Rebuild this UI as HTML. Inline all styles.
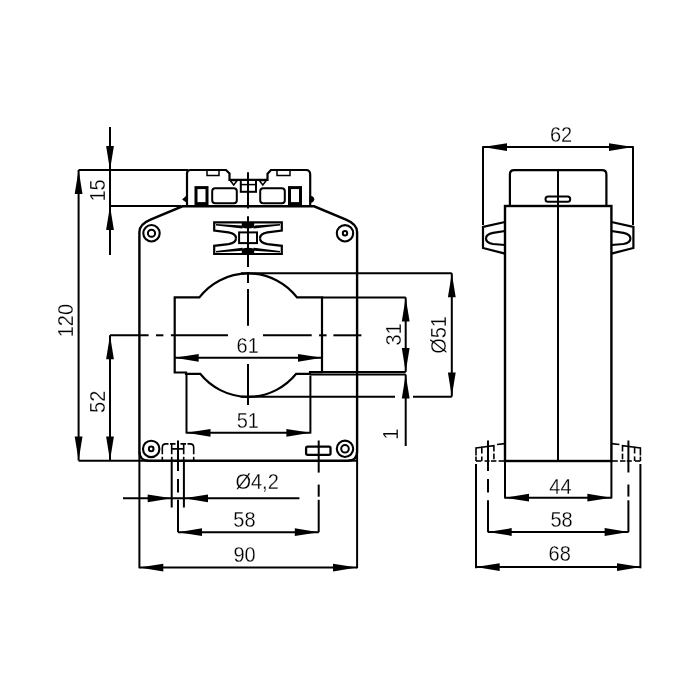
<!DOCTYPE html>
<html><head><meta charset="utf-8"><style>
html,body{margin:0;padding:0;background:#fff;}
svg{display:block;will-change:transform;}
text{font-family:"Liberation Sans",sans-serif;fill:#000;stroke:#fff;stroke-width:1.2px;}
</style></head><body>
<svg width="700" height="700" viewBox="0 0 700 700" stroke="#000" fill="none" stroke-linecap="butt">
<rect x="0" y="0" width="700" height="700" fill="#fff" stroke="none"/>
<line x1="110" y1="127" x2="110" y2="255" stroke-width="2.0"/>
<polygon points="110.00,170.00 106.10,146.00 113.90,146.00" stroke="none" fill="#000"/>
<line x1="110" y1="206" x2="110" y2="255" stroke-width="2.0"/>
<polygon points="110.00,206.00 106.10,230.00 113.90,230.00" stroke="none" fill="#000"/>
<text x="0" y="0" font-size="100" transform="translate(104.63,201.50) rotate(-90) scale(0.2,0.217)">15</text>
<line x1="78.6" y1="170" x2="188" y2="170" stroke-width="2.0"/>
<line x1="110" y1="206" x2="181" y2="206" stroke-width="2.0"/>
<line x1="78.6" y1="460.7" x2="148.5" y2="460.7" stroke-width="2.0"/>
<line x1="348" y1="460.7" x2="357.1" y2="460.7" stroke-width="2.0"/>
<line x1="78.6" y1="170" x2="78.6" y2="460.5" stroke-width="2.0"/>
<polygon points="78.60,170.00 74.70,194.00 82.50,194.00" stroke="none" fill="#000"/>
<polygon points="78.60,460.50 74.70,436.50 82.50,436.50" stroke="none" fill="#000"/>
<text x="0" y="0" font-size="100" transform="translate(73.49,337.35) rotate(-90) scale(0.2,0.217)">120</text>
<line x1="110" y1="335.3" x2="110" y2="460.5" stroke-width="2.0"/>
<polygon points="110.00,335.30 106.10,359.30 113.90,359.30" stroke="none" fill="#000"/>
<polygon points="110.00,460.50 106.10,436.50 113.90,436.50" stroke="none" fill="#000"/>
<text x="0" y="0" font-size="100" transform="translate(105.19,412.95) rotate(-90) scale(0.2,0.217)">52</text>
<line x1="110" y1="335.3" x2="148.6" y2="335.3" stroke-width="2.0"/>
<line x1="156" y1="335.3" x2="163.4" y2="335.3" stroke-width="2.0"/>
<line x1="170.9" y1="335.3" x2="228" y2="335.3" stroke-width="2.0"/>
<line x1="263" y1="335.3" x2="311.7" y2="335.3" stroke-width="2.0"/>
<line x1="319.1" y1="335.3" x2="326.6" y2="335.3" stroke-width="2.0"/>
<line x1="333.4" y1="335.3" x2="361.4" y2="335.3" stroke-width="2.0"/>
<path d="M182.4,206.3 L314.1,206.3 L346,219.6 Q357.1,224.2 357.1,232 L357.1,451.5 Q357.1,460.7 348,460.7 L148.5,460.7 Q139.4,460.7 139.4,451.5 L139.4,232 Q139.4,224.2 150.5,219.6 Z" stroke-width="2.4" fill="none"/>
<line x1="139.4" y1="451.5" x2="139.4" y2="568.3" stroke-width="2.0"/>
<line x1="357.1" y1="451.5" x2="357.1" y2="568.3" stroke-width="2.0"/>
<circle cx="151.5" cy="233.25" r="8.2" stroke-width="2.1" fill="none"/>
<circle cx="151.5" cy="233.25" r="3.6" stroke-width="2.0" fill="none"/>
<circle cx="345" cy="233.3" r="8.2" stroke-width="2.1" fill="none"/>
<circle cx="345" cy="233.3" r="2.2" stroke-width="2.0" fill="none"/>
<circle cx="151.2" cy="448.9" r="8.2" stroke-width="2.1" fill="none"/>
<circle cx="151.2" cy="448.9" r="2.3" stroke-width="2.0" fill="none"/>
<circle cx="345" cy="448.8" r="8.2" stroke-width="2.1" fill="none"/>
<circle cx="345" cy="448.8" r="3.8" stroke-width="2.0" fill="none"/>
<path d="M187,206 L187,173.5 Q187,170 190.5,170 L226,170 L229.5,173.5 L229.5,179.8 L267.5,179.8 L267.5,173.8 L271,170 L306,170 Q310.2,170 310.2,174.5 L310.2,206" stroke-width="2.2" fill="none"/>
<rect x="207" y="170" width="12" height="5.5" rx="0" stroke-width="1.5" fill="none"/>
<rect x="277" y="170" width="13" height="5.5" rx="0" stroke-width="1.5" fill="none"/>
<rect x="196" y="187.6" width="11" height="16.0" rx="0" stroke-width="3.0" fill="none"/>
<rect x="289.5" y="187.6" width="11.0" height="16.0" rx="0" stroke-width="3.0" fill="none"/>
<rect x="212.2" y="188.2" width="24.600000000000023" height="15.100000000000023" rx="3" stroke-width="2.0" fill="none"/>
<rect x="260.2" y="188.2" width="24.600000000000023" height="15.100000000000023" rx="3" stroke-width="2.0" fill="none"/>
<path d="M230.2,180.5 L237.2,180.5 L233.7,185 Z" stroke-width="1.5" fill="none"/>
<path d="M259.3,180.5 L266.3,180.5 L262.8,185 Z" stroke-width="1.5" fill="none"/>
<rect x="240.8" y="180" width="15.199999999999989" height="11.800000000000011" rx="0" stroke-width="2.0" fill="none"/>
<line x1="240.8" y1="184.6" x2="256" y2="184.6" stroke-width="1.5"/>
<path d="M187,195.6 L182.6,199.4 L187,202.6 Z" stroke-width="0.8" fill="#000"/>
<path d="M310,196 Q314,196.5 314,199.3 Q314,202.3 310,202.6 Z" stroke-width="0.8" fill="#000"/>
<path d="M248,222.4 L214.2,222.4 L214.2,230.6 L228.5,232.3 Q236,233.6 236,238.2" stroke-width="2.2" fill="none"/>
<path d="M216,223.9 L242.5,225.6 L242.5,228.6 L216,225.4 Z" stroke-width="0" fill="#000"/>
<path d="M248,253.99999999999997 L214.2,253.99999999999997 L214.2,245.79999999999998 L228.5,244.09999999999997 Q236,242.79999999999998 236,238.2" stroke-width="2.2" fill="none"/>
<path d="M216,252.49999999999997 L242.5,250.79999999999998 L242.5,247.79999999999998 L216,250.99999999999997 Z" stroke-width="0" fill="#000"/>
<path d="M248,222.4 L281.8,222.4 L281.8,230.6 L267.5,232.3 Q260,233.6 260,238.2" stroke-width="2.2" fill="none"/>
<path d="M280,223.9 L253.5,225.6 L253.5,228.6 L280,225.4 Z" stroke-width="0" fill="#000"/>
<path d="M248,253.99999999999997 L281.8,253.99999999999997 L281.8,245.79999999999998 L267.5,244.09999999999997 Q260,242.79999999999998 260,238.2" stroke-width="2.2" fill="none"/>
<path d="M280,252.49999999999997 L253.5,250.79999999999998 L253.5,247.79999999999998 L280,250.99999999999997 Z" stroke-width="0" fill="#000"/>
<path d="M241.8,222.4 L254.2,222.4 L254.2,227.6 Q248,229.6 241.8,227.6 Z" stroke-width="0" fill="#000"/>
<path d="M241.8,254 L254.2,254 L254.2,248.8 Q248,246.8 241.8,248.8 Z" stroke-width="0" fill="#000"/>
<rect x="239.1" y="232.4" width="17.900000000000006" height="10.699999999999989" rx="0" stroke-width="2.0" fill="none"/>
<path d="M174.7,297.4 L199.4,297.4 A61.6,61.6 0 0 1 297,297.4 L322,297.4 L322,372.2 L310,372.2 L310,373.8 L296.2,373.8 A61.6,61.6 0 0 1 200.2,373.8 L186,373.8 L186,372.5 L174.7,372.5 Z" stroke-width="2.2" fill="none"/>
<line x1="241" y1="273.2" x2="451.8" y2="273.2" stroke-width="2.0"/>
<line x1="240.6" y1="396.7" x2="395" y2="396.7" stroke-width="2.0"/>
<line x1="413" y1="396.7" x2="451.8" y2="396.7" stroke-width="2.0"/>
<line x1="322" y1="297.4" x2="405.7" y2="297.4" stroke-width="2.0"/>
<line x1="322" y1="372.0" x2="405.7" y2="372.0" stroke-width="2.0"/>
<line x1="310" y1="374.5" x2="405.7" y2="374.5" stroke-width="2.0"/>
<line x1="405.7" y1="297.4" x2="405.7" y2="372" stroke-width="2.0"/>
<polygon points="405.70,297.40 401.80,321.40 409.60,321.40" stroke="none" fill="#000"/>
<polygon points="405.70,372.00 401.80,348.00 409.60,348.00" stroke="none" fill="#000"/>
<line x1="405.7" y1="374.5" x2="405.7" y2="446" stroke-width="2.0"/>
<polygon points="405.70,374.50 401.80,398.50 409.60,398.50" stroke="none" fill="#000"/>
<text x="0" y="0" font-size="100" transform="translate(400.74,345.50) rotate(-90) scale(0.2,0.217)">31</text>
<text x="0" y="0" font-size="100" transform="translate(398.34,439.75) rotate(-90) scale(0.2,0.217)">1</text>
<line x1="451.8" y1="273.2" x2="451.8" y2="396.6" stroke-width="2.0"/>
<polygon points="451.80,273.20 447.90,297.20 455.70,297.20" stroke="none" fill="#000"/>
<polygon points="451.80,396.60 447.90,372.60 455.70,372.60" stroke="none" fill="#000"/>
<text x="0" y="0" font-size="100" transform="translate(446.10,353.80) rotate(-90) scale(0.2,0.217)">Ø51</text>
<line x1="174.7" y1="357.8" x2="322" y2="357.8" stroke-width="2.0"/>
<polygon points="174.70,357.80 198.70,353.90 198.70,361.70" stroke="none" fill="#000"/>
<polygon points="322.00,357.80 298.00,353.90 298.00,361.70" stroke="none" fill="#000"/>
<text x="0" y="0" font-size="100" transform="translate(236.55,353.04) scale(0.2,0.217)">61</text>
<line x1="186.5" y1="375" x2="186.5" y2="433.5" stroke-width="2.0"/>
<line x1="310.4" y1="375.5" x2="310.4" y2="433.5" stroke-width="2.0"/>
<line x1="186.5" y1="432.8" x2="310.4" y2="432.8" stroke-width="2.0"/>
<polygon points="186.50,432.80 210.50,428.90 210.50,436.70" stroke="none" fill="#000"/>
<polygon points="310.40,432.80 286.40,428.90 286.40,436.70" stroke="none" fill="#000"/>
<text x="0" y="0" font-size="100" transform="translate(236.65,427.93) scale(0.2,0.217)">51</text>
<line x1="248" y1="172.3" x2="248" y2="208.4" stroke-width="2.0"/>
<line x1="248" y1="216.2" x2="248" y2="267.1" stroke-width="2.0"/>
<line x1="248" y1="272" x2="248" y2="283" stroke-width="2.0"/>
<line x1="248" y1="288.9" x2="248" y2="325.7" stroke-width="2.0"/>
<line x1="248" y1="364" x2="248" y2="405" stroke-width="2.0"/>
<path d="M162.3,454.3 V447.5 Q162.3,443.9 166,443.9 H168.5 M170,443.9 H175.5 M180.5,443.9 H186 M187.5,443.9 H190 Q193.7,443.9 193.7,447.5 V454.3" stroke-width="1.6" fill="none"/>
<path d="M171.7,443.9 V454.3 M183.7,443.9 V454.3 M171.7,448.9 H183.7" stroke-width="1.6" fill="none"/>
<line x1="162.3" y1="456.8" x2="162.3" y2="460.5" stroke-width="1.6"/>
<line x1="171.7" y1="456.8" x2="171.7" y2="460.5" stroke-width="1.6"/>
<line x1="183.7" y1="456.8" x2="183.7" y2="460.5" stroke-width="1.6"/>
<line x1="193.7" y1="456.8" x2="193.7" y2="460.5" stroke-width="1.6"/>
<line x1="178" y1="440.5" x2="178" y2="471" stroke-width="2.0"/>
<line x1="178" y1="478.9" x2="178" y2="492.4" stroke-width="2.0"/>
<line x1="178" y1="499.8" x2="178" y2="532.2" stroke-width="2.0"/>
<line x1="171.7" y1="462" x2="171.7" y2="507.5" stroke-width="2.0"/>
<line x1="183.9" y1="462" x2="183.9" y2="507.5" stroke-width="2.0"/>
<rect x="306.1" y="446.6" width="24.399999999999977" height="8.199999999999989" rx="1.5" stroke-width="2.3" fill="none"/>
<line x1="318.7" y1="440.5" x2="318.7" y2="472.6" stroke-width="2.0"/>
<line x1="318.7" y1="484.6" x2="318.7" y2="496.7" stroke-width="2.0"/>
<line x1="318.7" y1="499.8" x2="318.7" y2="532.2" stroke-width="2.0"/>
<line x1="123" y1="498.3" x2="299.4" y2="498.3" stroke-width="2.0"/>
<polygon points="171.70,498.30 147.70,494.40 147.70,502.20" stroke="none" fill="#000"/>
<polygon points="184.00,498.30 208.00,494.40 208.00,502.20" stroke="none" fill="#000"/>
<text x="0" y="0" font-size="100" transform="translate(235.45,489.05) scale(0.2,0.217)">Ø4,2</text>
<line x1="178" y1="532.2" x2="318.8" y2="532.2" stroke-width="2.0"/>
<polygon points="178.00,532.20 202.00,528.30 202.00,536.10" stroke="none" fill="#000"/>
<polygon points="318.80,532.20 294.80,528.30 294.80,536.10" stroke="none" fill="#000"/>
<text x="0" y="0" font-size="100" transform="translate(233.35,526.79) scale(0.2,0.217)">58</text>
<line x1="139.3" y1="567.6" x2="357" y2="567.6" stroke-width="2.0"/>
<polygon points="139.30,567.60 163.30,563.70 163.30,571.50" stroke="none" fill="#000"/>
<polygon points="357.00,567.60 333.00,563.70 333.00,571.50" stroke="none" fill="#000"/>
<text x="0" y="0" font-size="100" transform="translate(233.40,562.19) scale(0.2,0.217)">90</text>
<line x1="483" y1="147.1" x2="633" y2="147.1" stroke-width="2.0"/>
<polygon points="483.00,147.10 507.00,143.20 507.00,151.00" stroke="none" fill="#000"/>
<polygon points="633.00,147.10 609.00,143.20 609.00,151.00" stroke="none" fill="#000"/>
<line x1="483" y1="146.3" x2="483" y2="225" stroke-width="2.0"/>
<line x1="633" y1="146.3" x2="633" y2="225" stroke-width="2.0"/>
<text x="0" y="0" font-size="100" transform="translate(549.95,142.29) scale(0.2,0.217)">62</text>
<path d="M509.9,206 L509.9,174.5 Q509.9,170.2 514.2,170.2 L602.1,170.2 Q606.4,170.2 606.4,174.5 L606.4,206" stroke-width="2.2" fill="none"/>
<rect x="545.5" y="196.6" width="24.700000000000045" height="5.200000000000017" rx="2.6" stroke-width="2.0" fill="none"/>
<rect x="505" y="206" width="106.39999999999998" height="255" rx="0" stroke-width="2.4" fill="none"/>
<line x1="558" y1="170" x2="558" y2="461" stroke-width="2.0"/>
<path d="M505,222 L483,227 L483,248 L505,253.6" stroke-width="2.2" fill="none"/>
<path d="M505,231 L493,232.8 Q486,234 486,238.5 Q486,243 493,244 L505,245" stroke-width="2.2" fill="none"/>
<path d="M476,455.5 V448 L481.8,447.3" stroke-width="1.6" fill="none"/>
<path d="M481.8,453.6 V447.3 L493.9,445.6 V451.4" stroke-width="1.6" fill="none"/>
<line x1="493.9" y1="453.6" x2="493.9" y2="459.3" stroke-width="1.6"/>
<line x1="476" y1="456.6" x2="476" y2="461" stroke-width="1.6"/>
<line x1="481.8" y1="456.4" x2="481.8" y2="461" stroke-width="1.6"/>
<line x1="497" y1="444.5" x2="505" y2="443.6" stroke-width="1.6"/>
<line x1="476" y1="461" x2="481.4" y2="461" stroke-width="1.6"/>
<line x1="484.6" y1="461" x2="489.6" y2="461" stroke-width="1.6"/>
<line x1="491" y1="461" x2="496.4" y2="461" stroke-width="1.6"/>
<line x1="498.6" y1="461" x2="505" y2="461" stroke-width="1.6"/>
<line x1="488" y1="440.5" x2="488" y2="471" stroke-width="2.0"/>
<line x1="488" y1="478.9" x2="488" y2="492.4" stroke-width="2.0"/>
<line x1="488" y1="500.3" x2="488" y2="532" stroke-width="2.0"/>
<line x1="476" y1="464" x2="476" y2="568.3" stroke-width="2.0"/>
<path d="M611.4000000000001,222 L633.4000000000001,227 L633.4000000000001,248 L611.4000000000001,253.6" stroke-width="2.2" fill="none"/>
<path d="M611.4000000000001,231 L623.4000000000001,232.8 Q630.4000000000001,234 630.4000000000001,238.5 Q630.4000000000001,243 623.4000000000001,244 L611.4000000000001,245" stroke-width="2.2" fill="none"/>
<path d="M640.4000000000001,455.5 V448 L634.6000000000001,447.3" stroke-width="1.6" fill="none"/>
<path d="M634.6000000000001,453.6 V447.3 L622.5000000000001,445.6 V451.4" stroke-width="1.6" fill="none"/>
<line x1="622.5000000000001" y1="453.6" x2="622.5000000000001" y2="459.3" stroke-width="1.6"/>
<line x1="640.4000000000001" y1="456.6" x2="640.4000000000001" y2="461" stroke-width="1.6"/>
<line x1="634.6000000000001" y1="456.4" x2="634.6000000000001" y2="461" stroke-width="1.6"/>
<line x1="619.4000000000001" y1="444.5" x2="611.4000000000001" y2="443.6" stroke-width="1.6"/>
<line x1="640.4000000000001" y1="461" x2="635.0000000000001" y2="461" stroke-width="1.6"/>
<line x1="631.8000000000001" y1="461" x2="626.8000000000001" y2="461" stroke-width="1.6"/>
<line x1="625.4000000000001" y1="461" x2="620.0000000000001" y2="461" stroke-width="1.6"/>
<line x1="617.8000000000001" y1="461" x2="611.4000000000001" y2="461" stroke-width="1.6"/>
<line x1="628.4000000000001" y1="440.5" x2="628.4000000000001" y2="472.5" stroke-width="2.0"/>
<line x1="628.4000000000001" y1="484.5" x2="628.4000000000001" y2="496.6" stroke-width="2.0"/>
<line x1="628.4000000000001" y1="500.3" x2="628.4000000000001" y2="532" stroke-width="2.0"/>
<line x1="640.4000000000001" y1="464" x2="640.4000000000001" y2="568.3" stroke-width="2.0"/>
<line x1="505" y1="461" x2="505" y2="498.5" stroke-width="2.0"/>
<line x1="611.4" y1="461" x2="611.4" y2="498.5" stroke-width="2.0"/>
<line x1="505" y1="497.7" x2="611.4" y2="497.7" stroke-width="2.0"/>
<polygon points="505.00,497.70 529.00,493.80 529.00,501.60" stroke="none" fill="#000"/>
<polygon points="611.40,497.70 587.40,493.80 587.40,501.60" stroke="none" fill="#000"/>
<text x="0" y="0" font-size="100" transform="translate(549.35,493.70) scale(0.2,0.217)">44</text>
<line x1="487.7" y1="532" x2="628.6" y2="532" stroke-width="2.0"/>
<polygon points="487.70,532.00 511.70,528.10 511.70,535.90" stroke="none" fill="#000"/>
<polygon points="628.60,532.00 604.60,528.10 604.60,535.90" stroke="none" fill="#000"/>
<text x="0" y="0" font-size="100" transform="translate(550.50,527.09) scale(0.2,0.217)">58</text>
<line x1="475.7" y1="567.1" x2="641" y2="567.1" stroke-width="2.0"/>
<polygon points="475.70,567.10 499.70,563.20 499.70,571.00" stroke="none" fill="#000"/>
<polygon points="641.00,567.10 617.00,563.20 617.00,571.00" stroke="none" fill="#000"/>
<text x="0" y="0" font-size="100" transform="translate(548.60,561.39) scale(0.2,0.217)">68</text>
</svg>
</body></html>
